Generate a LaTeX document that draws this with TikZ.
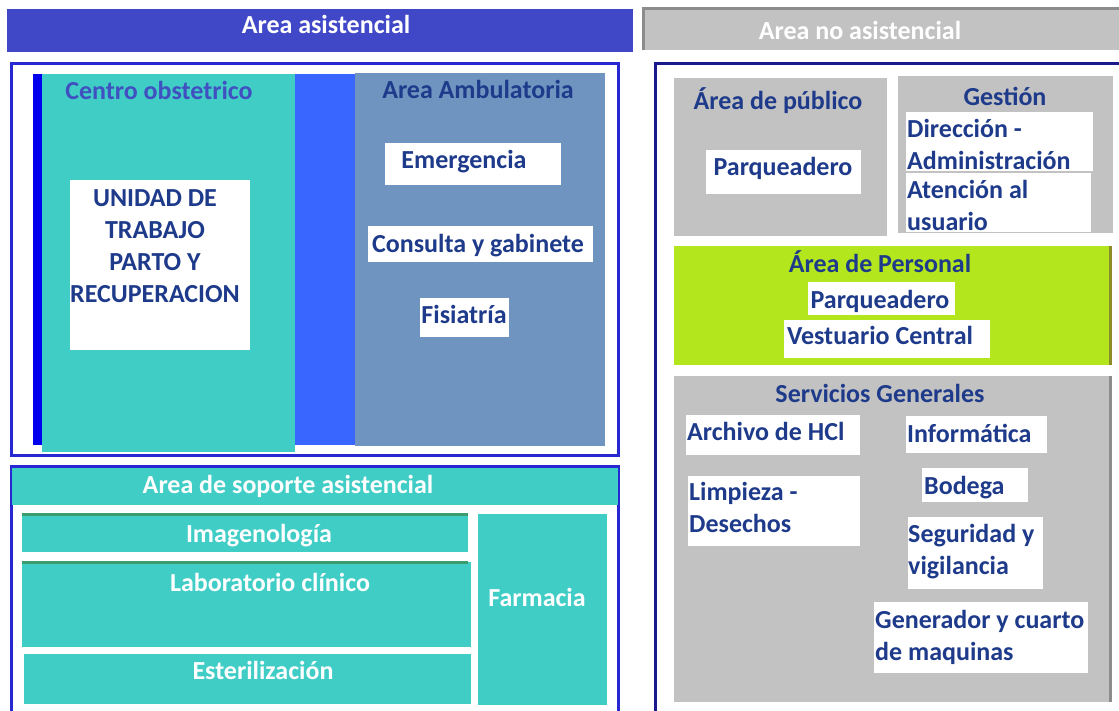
\documentclass[tikz,border=0pt]{standalone}
\usepackage{fontspec}
\setmainfont{Carlito}
\usetikzlibrary{positioning}
\definecolor{hdrblue}{RGB}{64,72,200}
\definecolor{frameblue}{RGB}{40,40,210}
\definecolor{framenavy}{RGB}{26,26,140}
\definecolor{turq}{RGB}{64,205,198}
\definecolor{deepblue}{RGB}{0,0,238}
\definecolor{midblue}{RGB}{56,102,255}
\definecolor{steel}{RGB}{112,148,192}
\definecolor{lgray}{RGB}{194,194,194}
\definecolor{dgray}{RGB}{140,140,140}
\definecolor{lime}{RGB}{180,230,30}
\definecolor{olivedge}{RGB}{140,140,40}
\definecolor{navytxt}{RGB}{30,58,138}
\definecolor{violtxt}{RGB}{64,80,192}
\definecolor{greenedge}{RGB}{60,156,112}

\begin{document}
\begin{tikzpicture}[x=1pt,y=-1pt,
  box/.style={inner sep=0pt,outer sep=0pt,anchor=north west},
  txt/.style={inner sep=0pt,font=\bfseries\fontsize{26}{32}\selectfont,text=navytxt},
  one/.style={txt,text height=17pt,text depth=0pt},
  multi/.style={txt,align=left,anchor=base west}]
\useasboundingbox (0,0) rectangle (1119,711);
\clip (0,0) rectangle (1119,711);

% headers
\node[box,fill=hdrblue,minimum width=626,minimum height=43] (hdrL) at (7,9) {};
\node[one,text=white] (hdrLt) at (326,25) {Area asistencial};
\node[box,fill=lgray,minimum width=476,minimum height=41] (hdrR) at (643,9) {};
\draw[dgray,line width=3pt] (hdrR.south west) -- (hdrR.north west) -- (hdrR.north east);
\node[one,text=white] (hdrRt) at (860,31) {Area no asistencial};

% area asistencial
\node[box,draw=frameblue,line width=3pt,minimum width=607,minimum height=392] (asist) at (11.5,63.5) {};
\node[box,fill=deepblue,minimum width=9,minimum height=371] (strip) at (33,74) {};
\node[box,fill=turq,minimum width=253,minimum height=378] (obst) at (42,74) {};
\node[box,fill=midblue,minimum width=60,minimum height=371] (gap) at (295,74) {};
\node[box,fill=steel,minimum width=250,minimum height=373] (amb) at (355,73) {};
\node[one,text=violtxt] (obstt) at (159,91) {Centro obstetrico};
\node[one] (ambt) at (478,90) {Area Ambulatoria};
\node[box,fill=white,minimum width=180,minimum height=170] (utpr) at (70,180) {};
\node[txt,align=center] (utprt) at (155,246) {UNIDAD DE\\TRABAJO\\PARTO Y\\RECUPERACION};
\node[box,fill=white,minimum width=176,minimum height=42] (emer) at (385,143) {};
\node[one] (emert) at (464,160) {Emergencia};
\node[box,fill=white,minimum width=225,minimum height=36] (cons) at (368,226) {};
\node[one] (const) at (478,244) {Consulta y gabinete};
\node[box,fill=white,minimum width=89,minimum height=39] (fisi) at (420,298) {};
\node[one] (fisit) at (464,315) {Fisiatría};

% soporte asistencial
\node[box,draw=frameblue,line width=3pt,minimum width=607,minimum height=260] (sop) at (11.5,466.5) {};
\node[box,fill=turq,minimum width=606,minimum height=37] (sophdr) at (12,468) {};
\node[one,text=white] (sopt) at (288,485) {Area de soporte asistencial};
\node[box,fill=turq,minimum width=446,minimum height=38] (imag) at (22,514) {};
\draw[greenedge,line width=3pt] (imag.north west) -- (imag.north east);
\node[one,text=white] (imagt) at (259,534) {Imagenología};
\node[box,fill=turq,minimum width=449,minimum height=85] (lab) at (22,562) {};
\draw[greenedge,line width=3pt] (lab.north west) -- ([xshift=-3pt]lab.north east);
\node[one,text=white] (labt) at (270,583) {Laboratorio clínico};
\node[box,fill=turq,minimum width=447,minimum height=50] (este) at (24,654) {};
\node[one,text=white] (estet) at (263,671) {Esterilización};
\node[box,fill=turq,minimum width=129,minimum height=191] (farm) at (478,514) {};
\node[one,text=white] (farmt) at (537,598) {Farmacia};

% area no asistencial
\node[box,draw=framenavy,line width=3pt,minimum width=470,minimum height=660] (noasist) at (655,64) {};
\node[box,fill=lgray,minimum width=213,minimum height=158] (pub) at (674,78) {};
\node[one] (pubt) at (778,101) {Área de público};
\node[box,fill=white,minimum width=155,minimum height=44] (parq) at (706,150) {};
\node[one] (parqt) at (783,167) {Parqueadero};
\node[box,fill=lgray,minimum width=215,minimum height=157] (gest) at (898,76) {};
\node[one] (gestt) at (1005,97) {Gestión};
\node[box,fill=white,minimum width=187,minimum height=59] (dir) at (906,112) {};
\node[multi] (dirt) at (907,169.5) {Dirección -\\Administración};
\node[box,fill=white,minimum width=185,minimum height=59] (aten) at (906,173) {};
\node[multi] (atent) at (907,230.5) {Atención al\\usuario};

\node[box,fill=lime,minimum width=436,minimum height=119] (pers) at (674,246) {};
\draw[olivedge,line width=3pt] (pers.north east) -- (pers.south east);
\node[one] (perst) at (880,264) {Área de Personal};
\node[box,fill=white,minimum width=147,minimum height=33] (parqp) at (808,282) {};
\node[one] (parqpt) at (880,300) {Parqueadero};
\node[box,fill=white,minimum width=206,minimum height=38] (vest) at (784,320) {};
\node[one] (vestt) at (880,336) {Vestuario Central};

\node[box,fill=lgray,minimum width=436,minimum height=326] (serv) at (674,376) {};
\draw[dgray,line width=3pt] (serv.north east) -- (serv.south east);
\node[one] (servt) at (880,394) {Servicios Generales};
\node[box,fill=white,minimum width=174,minimum height=40] (arch) at (686,415) {};
\node[one,anchor=west] (archt) at (687,432) {Archivo de HCl};
\node[box,fill=white,minimum width=141,minimum height=37] (info) at (906,416) {};
\node[one,anchor=west] (infot) at (907,434) {Informática};
\node[box,fill=white,minimum width=172,minimum height=70] (limp) at (688,476) {};
\node[multi] (limpt) at (689,532.5) {Limpieza -\\Desechos};
\node[box,fill=white,minimum width=106,minimum height=34] (bode) at (922,468) {};
\node[one,anchor=west] (bodet) at (924,486) {Bodega};
\node[box,fill=white,minimum width=135,minimum height=72] (segu) at (908,517) {};
\node[multi] (segut) at (908,574.5) {Seguridad y\\vigilancia};
\node[box,fill=white,minimum width=214,minimum height=71] (gene) at (874,602) {};
\node[multi] (genet) at (875,660.5) {Generador y cuarto\\de maquinas};
\end{tikzpicture}
\end{document}
